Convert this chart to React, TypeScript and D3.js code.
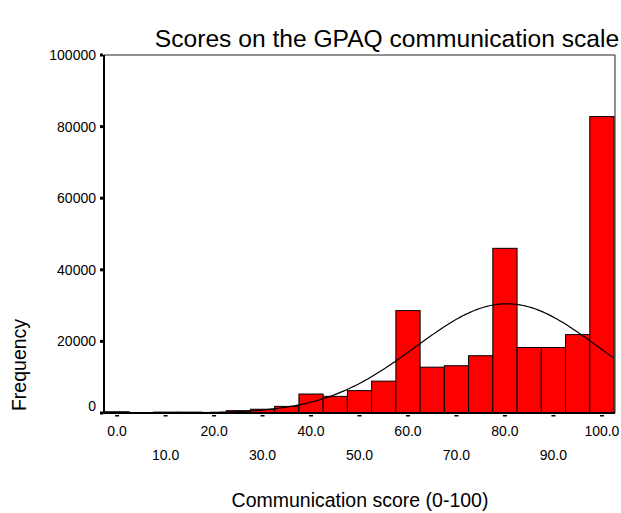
import React from "react";
import * as d3 from "d3";

const binCenters = [0, 5, 10, 15, 20, 25, 30, 35, 40, 45, 50, 55, 60, 65, 70, 75, 80, 85, 90, 95, 100];
const frequencies = [350, 40, 250, 250, 150, 650, 1050, 1850, 5300, 4650, 6250, 8900, 28600, 12800, 13200, 16000, 46000, 18300, 18300, 21900, 82800];
const yTicks = [0, 20000, 40000, 60000, 80000, 100000];
const xTicks = [0, 10, 20, 30, 40, 50, 60, 70, 80, 90, 100];
const curveMean = 80.4;
const curveSd = 18.8;
const binWidth = 5;

const W = 621;
const H = 513;
const left = 104, right = 615, top = 55, bottom = 413;
const FONT = "'Liberation Sans', Arial, Helvetica, sans-serif";

export default function App() {
  const x = d3.scaleLinear().domain([-2.7, 102.7]).range([left, right]);
  const y = d3.scaleLinear().domain([0, 100000]).range([bottom, top]);
  const N = d3.sum(frequencies);
  const pdf = (v: number) =>
    (N * binWidth) / (curveSd * Math.sqrt(2 * Math.PI)) * Math.exp(-0.5 * ((v - curveMean) / curveSd) ** 2);
  const samples = d3.range(-2.7, 102.71, 0.5);
  const line = d3.line<number>().x((d) => x(d)).y((d) => y(pdf(d)));

  return (
    <svg width={W} height={H} style={{ position: "absolute", left: 0, top: 0, background: "#fff" }} fontFamily={FONT}>
      <rect x={0} y={0} width={W} height={H} fill="#fff" />
      <text x={387} y={47} textAnchor="middle" fontSize={24.6} fill="#000">
        Scores on the GPAQ communication scale
      </text>
      {/* frame top/right */}
      <line x1={left} y1={top} x2={right} y2={top} stroke="#222" strokeWidth={1} />
      <line x1={right} y1={top} x2={right} y2={bottom} stroke="#222" strokeWidth={1} />
      {/* bars */}
      {binCenters.map((c, i) => (
        <rect
          key={i}
          x={x(c - binWidth / 2)}
          y={y(frequencies[i])}
          width={x(c + binWidth / 2) - x(c - binWidth / 2)}
          height={bottom - y(frequencies[i])}
          fill="#ff0000"
          stroke="#000"
          strokeWidth={1}
        />
      ))}
      {/* normal curve */}
      <path d={line(samples) || ""} fill="none" stroke="#000" strokeWidth={1.2} />
      {/* axes */}
      <line x1={left} y1={top} x2={left} y2={bottom + 1} stroke="#000" strokeWidth={2} />
      <line x1={left - 3} y1={bottom} x2={right} y2={bottom} stroke="#000" strokeWidth={2} />
      {yTicks.map((t) => (
        <g key={t}>
          <rect x={left - 4} y={y(t) - 1.5} width={3} height={3} fill="#000" />
          <text
            x={left - 8}
            y={y(t) + (t === 0 ? -7 : 0)}
            textAnchor="end"
            dominantBaseline="central"
            fontSize={14}
            fill="#000"
          >
            {t}
          </text>
        </g>
      ))}
      {xTicks.map((t, i) => (
        <g key={t}>
          <rect x={x(t) - 2} y={bottom + 2} width={4} height={1.5} fill="#000" />
          <text x={x(t)} y={i % 2 === 0 ? 436 : 460} textAnchor="middle" fontSize={14} fill="#000">
            {t.toFixed(1)}
          </text>
        </g>
      ))}
      <text x={360} y={507} textAnchor="middle" fontSize={19.5} fill="#000">
        Communication score (0-100)
      </text>
      <text transform="translate(26,365) rotate(-90)" textAnchor="middle" fontSize={19.5} fill="#000">
        Frequency
      </text>
    </svg>
  );
}
